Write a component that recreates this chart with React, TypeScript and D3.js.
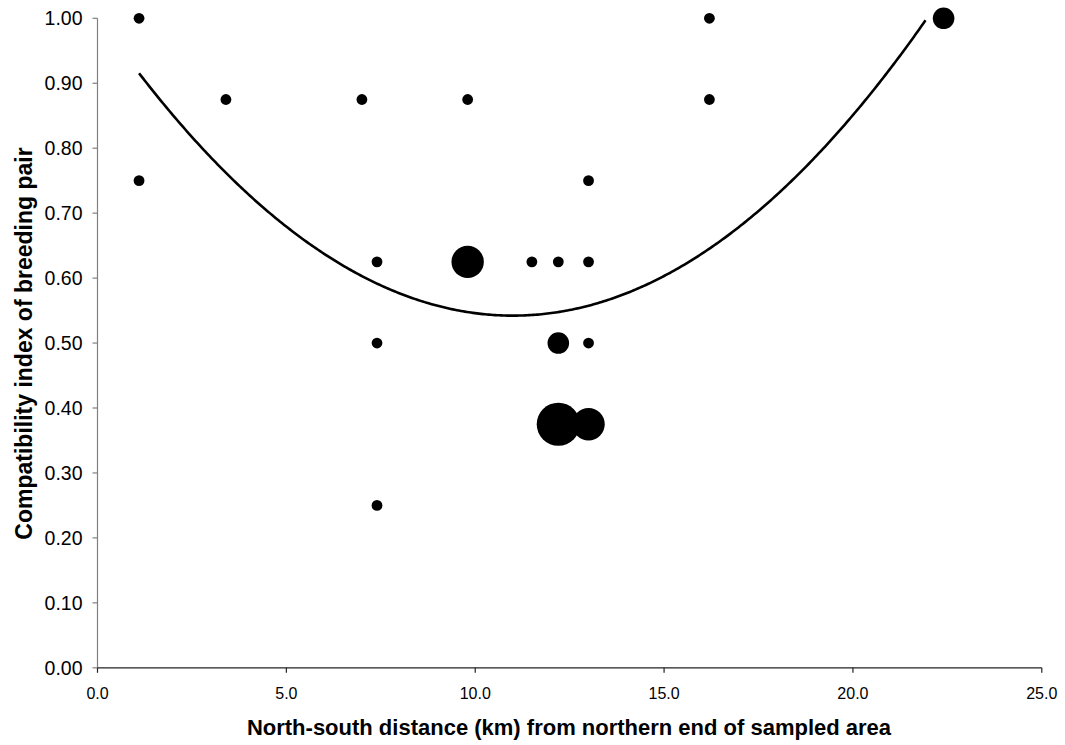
import React from "react";
import * as d3 from "d3";

// Distance (km) from the northern end, compatibility index, and number of pairs at each point
const distanceKm = [1.1, 1.1, 3.4, 7.0, 9.8, 16.2, 16.2, 13.0, 7.4, 9.8, 11.5, 12.2, 13.0, 7.4, 12.2, 13.0, 12.2, 13.0, 7.4, 22.4];
const compatibility = [1.0, 0.75, 0.875, 0.875, 0.875, 1.0, 0.875, 0.75, 0.625, 0.625, 0.625, 0.625, 0.625, 0.5, 0.5, 0.5, 0.375, 0.375, 0.25, 1.0];
const pairCount = [1, 1, 1, 1, 1, 1, 1, 1, 1, 3, 1, 1, 1, 1, 2, 1, 4, 3, 1, 2];

// Second-order polynomial trend: y = c0 + c1*x + c2*x^2
const trendCoef = [1.003, -0.0838, 0.00381];
const trendRange = [1.1, 22.4];

const xTicks = [0, 5, 10, 15, 20, 25];
const yTicks = [0, 0.1, 0.2, 0.3, 0.4, 0.5, 0.6, 0.7, 0.8, 0.9, 1.0];

const W = 1065;
const H = 745;
const left = 97.5;
const right = 1041.8;
const top = 18.3;
const bottom = 667.8;

export default function App() {
  const x = d3.scaleLinear().domain([0, 25]).range([left, right]);
  const y = d3.scaleLinear().domain([0, 1]).range([bottom, top]);

  const points = distanceKm.map((d, i) => ({ x: d, y: compatibility[i], n: pairCount[i] }));

  const trendPts: [number, number][] = d3
    .range(0, 401)
    .map((i) => trendRange[0] + ((trendRange[1] - trendRange[0]) * i) / 400)
    .map((v) => [v, trendCoef[0] + trendCoef[1] * v + trendCoef[2] * v * v] as [number, number])
    .filter((p) => p[1] <= 1.0);
  const line = d3
    .line<[number, number]>()
    .x((d) => x(d[0]))
    .y((d) => y(d[1]));

  const axisColor = "#808080";
  const font = "Liberation Sans, Arial, sans-serif";

  return (
    <svg
      width={W}
      height={H}
      style={{ position: "absolute", left: 0, top: 0, background: "#fff" }}
      fontFamily={font}
    >
      <rect x={0} y={0} width={W} height={H} fill="#fff" />

      {/* y axis */}
      <line x1={left} x2={left} y1={top} y2={bottom} stroke={axisColor} strokeWidth={1.2} />
      {yTicks.map((t) => (
        <g key={"y" + t}>
          <line x1={left - 5} x2={left} y1={y(t)} y2={y(t)} stroke={axisColor} strokeWidth={1.2} />
          <text x={left - 15} y={y(t)} dy="0.36em" textAnchor="end" fontSize={19.5} fill="#000">
            {t.toFixed(2)}
          </text>
        </g>
      ))}

      {/* x axis */}
      <line x1={left} x2={right} y1={bottom} y2={bottom} stroke="#222" strokeWidth={1.2} />
      {xTicks.map((t) => (
        <g key={"x" + t}>
          <line x1={x(t)} x2={x(t)} y1={bottom} y2={bottom + 5} stroke="#222" strokeWidth={1.2} />
          <text x={x(t)} y={bottom + 31} textAnchor="middle" fontSize={16} fill="#000">
            {t.toFixed(1)}
          </text>
        </g>
      ))}

      {/* points, diameter proportional to number of pairs */}
      {points.map((p, i) => (
        <circle key={i} cx={x(p.x)} cy={y(p.y)} r={5.4 * p.n} fill="#000" />
      ))}

      {/* trend line */}
      <path d={line(trendPts) || ""} fill="none" stroke="#000" strokeWidth={2.6} />

      {/* axis titles */}
      <text x={569} y={735} textAnchor="middle" fontSize={22} fontWeight="bold" fill="#000">
        North-south distance (km) from northern end of sampled area
      </text>
      <text
        transform={`translate(32, 343.5) rotate(-90)`}
        textAnchor="middle"
        fontSize={23}
        fontWeight="bold"
        fill="#000"
      >
        Compatibility index of breeding pair
      </text>
    </svg>
  );
}
